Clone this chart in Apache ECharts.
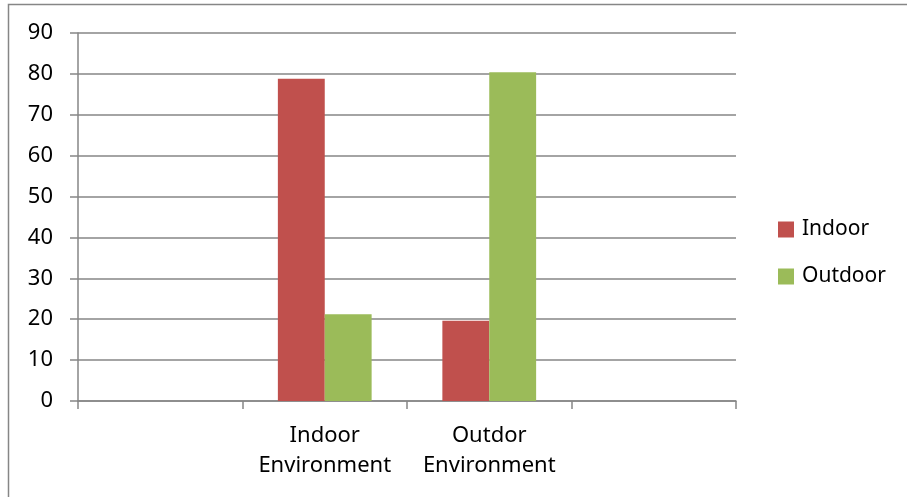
<!DOCTYPE html>
<html>
<head>
<meta charset="utf-8">
<script src="https://cdn.jsdelivr.net/npm/echarts@6/dist/echarts.min.js"></script>
<style>
  html, body { margin: 0; padding: 0; background: #fff; }
  #chart { width: 907px; height: 497px; }
</style>
</head>
<body>
<div id="chart"></div>
<script>
    'use strict';

    var categories = ['', 'Indoor\nEnvironment', 'Outdor\nEnvironment', ''];
    var seriesNames = ['Indoor', 'Outdoor'];
    var indoorValues = ['-', 78.8, 19.6, '-'];
    var outdoorValues = ['-', 21.2, 80.4, '-'];
    var yTicks = { min: 0, max: 90, interval: 10 };

    var chartColor = ['#c0504d', '#9bbb59'];
    var axisGray = '#868686';
    var font = '"Noto Sans", sans-serif';

    var chart = echarts.init(document.getElementById('chart'), null, { renderer: 'canvas' });

    var option = {
        animation: false,
        color: chartColor,
        textStyle: { fontFamily: font, color: '#000' },
        graphic: [{
            type: 'rect',
            shape: { x: 8.5, y: 4.5, width: 1000, height: 1000 },
            style: { fill: 'none', stroke: axisGray, lineWidth: 1.5 },
            silent: true
        }],
        legend: {
            orient: 'vertical',
            left: 778,
            top: 219,
            padding: 0,
            itemWidth: 16,
            itemHeight: 16,
            itemGap: 26,
            icon: 'rect',
            textStyle: { fontFamily: font, fontSize: 21, lineHeight: 16, color: '#000', padding: [0, 0, 0, 3] },
            data: seriesNames
        },
        grid: {
            left: 78,
            right: 171,
            top: 33,
            bottom: 96
        },
        xAxis: {
            type: 'category',
            data: categories,
            axisLine: { lineStyle: { color: axisGray, width: 1.5 } },
            axisTick: { show: true, interval: 0, length: 8, lineStyle: { color: axisGray, width: 1.5 } },
            axisLabel: {
                interval: 0,
                margin: 20,
                fontFamily: font,
                fontSize: 22,
                lineHeight: 30,
                color: '#000'
            },
            splitLine: { show: false }
        },
        yAxis: {
            type: 'value',
            min: yTicks.min,
            max: yTicks.max,
            interval: yTicks.interval,
            axisLine: { show: true, lineStyle: { color: axisGray, width: 1.5 } },
            axisTick: { show: true, length: 8, lineStyle: { color: axisGray, width: 1.5 } },
            axisLabel: { margin: 25, fontFamily: font, fontSize: 22, color: '#000' },
            splitLine: { show: true, lineStyle: { color: axisGray, width: 1.5 } }
        },
        series: [
            {
                name: seriesNames[0],
                type: 'bar',
                data: indoorValues,
                barGap: '0%',
                barCategoryGap: '43%'
            },
            {
                name: seriesNames[1],
                type: 'bar',
                data: outdoorValues,
                barGap: '0%',
                barCategoryGap: '43%'
            }
        ]
    };

    chart.setOption(option);
</script>
</body>
</html>
